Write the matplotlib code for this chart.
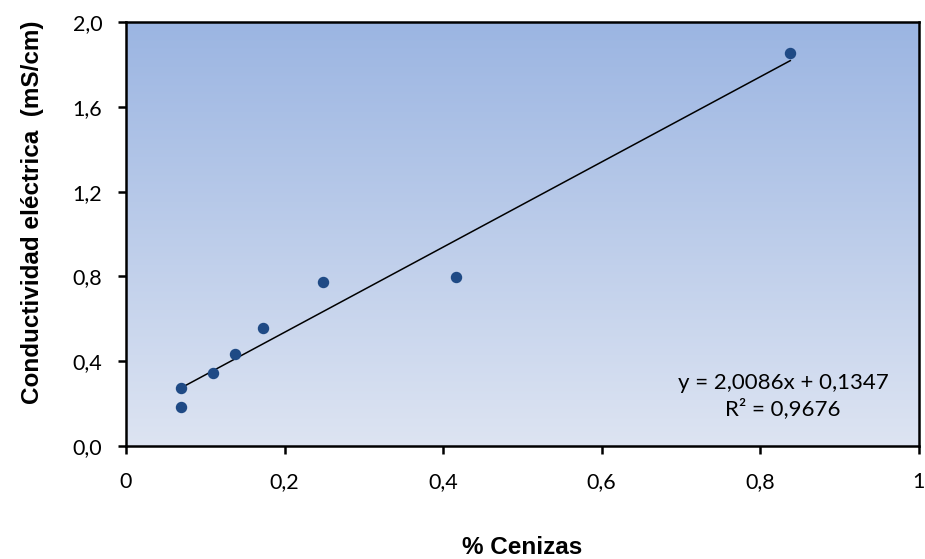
import numpy as np
import matplotlib.pyplot as plt
from matplotlib.ticker import FuncFormatter, MultipleLocator
from matplotlib.colors import LinearSegmentedColormap

# datos: % cenizas vs conductividad eléctrica
cenizas = [0.069, 0.070, 0.110, 0.137, 0.173, 0.249, 0.416, 0.838]
conductividad = [0.185, 0.272, 0.343, 0.434, 0.558, 0.775, 0.799, 1.852]

pendiente = 2.0086
intercepto = 0.1347
r2 = 0.9676

fig = plt.figure(figsize=(9.25, 5.59), dpi=100)
ax = fig.add_axes([0.1362, 0.2021, 0.857, 0.7585])

# fondo con degradado azul
cmap = LinearSegmentedColormap.from_list('fondo', ['#dde4f2', '#9bb5e2'])
grad = np.linspace(0, 1, 256).reshape(-1, 1)
ax.imshow(grad, aspect='auto', cmap=cmap, origin='lower',
          extent=[0, 1, 0, 1], transform=ax.transAxes, zorder=0)

ax.scatter(cenizas, conductividad, s=52, color='#1f4a85', zorder=3)

# recta de tendencia
xs = np.array([min(cenizas), max(cenizas)])
ax.plot(xs, pendiente * xs + intercepto, color='black', lw=1.1, zorder=2)

ax.set_xlim(0, 1)
ax.set_ylim(0, 2.0)
ax.xaxis.set_major_locator(MultipleLocator(0.2))
ax.yaxis.set_major_locator(MultipleLocator(0.4))

ax.xaxis.set_major_formatter(FuncFormatter(
    lambda v, p: '0' if v == 0 else ('1' if abs(v - 1) < 1e-9 else '{:.1f}'.format(v).replace('.', ','))))
ax.yaxis.set_major_formatter(FuncFormatter(lambda v, p: '{:.1f}'.format(v).replace('.', ',')))

for s in ax.spines.values():
    s.set_linewidth(1.8)
ax.tick_params(direction='out', length=6, width=1.8, labelsize=15.5)
ax.tick_params(axis='x', pad=13)
ax.tick_params(axis='y', pad=11)
for lab in ax.get_xticklabels() + ax.get_yticklabels():
    lab.set_family('Lato')

ax.set_xlabel('% Cenizas', fontsize=17.5, fontweight='bold', family='Liberation Sans')
ax.set_ylabel('Conductividad eléctrica  (mS/cm)', fontsize=17.5, fontweight='bold',
              family='Liberation Sans')
ax.xaxis.set_label_coords(0.5, -0.212)
ax.yaxis.label.set_va('center')
ax.yaxis.set_label_coords(-0.118, 0.552)

ec = 'y = {:.4f}x + {:.4f}'.format(pendiente, intercepto).replace('.', ',')
ax.text(0.829, 0.118, ec + '\nR² = ' + '{:.4f}'.format(r2).replace('.', ','),
        transform=ax.transAxes, ha='center', va='center', fontsize=16,
        family='Lato', linespacing=1.3, zorder=4)

fig.savefig('out.png', dpi=100)
